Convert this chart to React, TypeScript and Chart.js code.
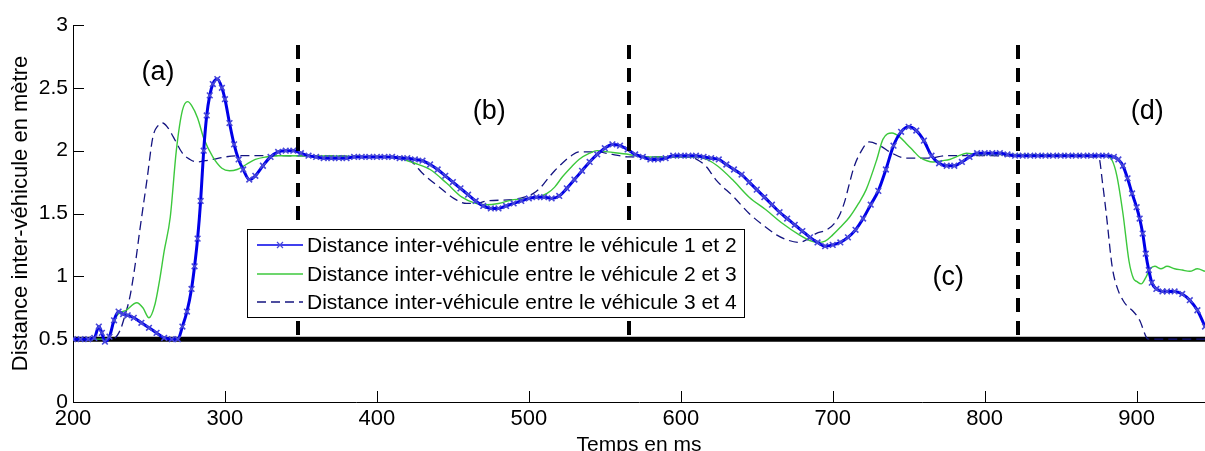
import React, { useEffect, useRef } from 'react';
import { Chart, registerables } from 'chart.js';

Chart.register(...registerables);

// ---- Axis ticks ----
const timeTicks = [200, 300, 400, 500, 600, 700, 800, 900];
const distTicks = [0, 0.5, 1, 1.5, 2, 2.5, 3];

// ---- Series names ----
const seriesNames = [
  'Distance inter-véhicule entre le véhicule 1 et 2',
  'Distance inter-véhicule entre le véhicule 2 et 3',
  'Distance inter-véhicule entre le véhicule 3 et 4',
];

// ---- Series 1 : véhicule 1 et 2 (ms, m) ----
const gap12Time = [
  200, 205, 210, 214, 217, 219, 221, 224, 227, 230, 233, 236, 240, 245, 250, 255, 260, 265, 269, 272,
  275, 278, 280, 282, 284, 286, 288, 290, 292, 295, 298, 300, 303, 306, 309, 312, 316, 320, 325, 330,
  335, 340, 345, 350, 355, 360, 365, 370, 375, 380, 385, 390, 395, 400, 405, 410, 415, 420, 425, 430,
  435, 440, 445, 450, 455, 460, 465, 470, 475, 480, 485, 490, 495, 500, 505, 510, 515, 520, 525, 530,
  535, 540, 545, 550, 555, 560, 565, 570, 575, 580, 585, 590, 595, 600, 605, 610, 615, 620, 625, 630,
  635, 640, 645, 650, 655, 660, 665, 670, 675, 680, 685, 690, 695, 700, 705, 710, 715, 720, 725, 730,
  735, 740, 745, 750, 755, 760, 765, 770, 775, 780, 785, 790, 795, 800, 805, 810, 815, 820, 825, 830,
  835, 840, 845, 850, 855, 860, 865, 870, 875, 880, 885, 888, 891, 894, 897, 900, 902, 904, 906, 908,
  910, 913, 917, 920, 925, 930, 935, 940, 945,
];
const gap12Dist = [
  0.5, 0.5, 0.5, 0.51, 0.6, 0.55, 0.48, 0.52, 0.65, 0.72, 0.7, 0.69, 0.67, 0.63, 0.59, 0.55, 0.51, 0.5, 0.5, 0.6,
  0.72, 0.9, 1.08, 1.3, 1.6, 2.0, 2.28, 2.44, 2.53, 2.57, 2.5, 2.41, 2.22, 2.05, 1.93, 1.85, 1.77, 1.8, 1.88, 1.95,
  1.99, 2.0, 2.0, 1.98, 1.96, 1.95, 1.94, 1.94, 1.94, 1.94, 1.95, 1.95, 1.95, 1.95, 1.95, 1.95, 1.94, 1.94, 1.93, 1.92,
  1.89, 1.85, 1.8, 1.75, 1.7, 1.65, 1.6, 1.56, 1.54, 1.54, 1.56, 1.58, 1.6, 1.62, 1.63, 1.63, 1.62, 1.64, 1.7, 1.77,
  1.84, 1.91, 1.97, 2.02, 2.05, 2.04, 2.01, 1.97, 1.95, 1.93, 1.93, 1.94, 1.96, 1.96, 1.96, 1.96, 1.95, 1.94, 1.93, 1.89,
  1.85, 1.81, 1.75, 1.69, 1.63, 1.57, 1.51, 1.46, 1.41, 1.36, 1.31, 1.27, 1.24, 1.25, 1.27, 1.31, 1.37, 1.46, 1.57, 1.68,
  1.85, 2.04, 2.15, 2.19, 2.16, 2.08, 1.96, 1.9, 1.88, 1.88, 1.91, 1.95, 1.98, 1.98, 1.98, 1.98, 1.97, 1.96, 1.96, 1.96,
  1.96, 1.96, 1.96, 1.96, 1.96, 1.96, 1.96, 1.96, 1.96, 1.96, 1.95, 1.93, 1.88, 1.78, 1.66, 1.55, 1.46, 1.34, 1.18, 1.05,
  0.95, 0.9, 0.88, 0.88, 0.88, 0.86, 0.81, 0.73, 0.6,
];

// ---- Series 2 : véhicule 2 et 3 (ms, m) ----
const gap23Time = [
  200, 222, 226, 229, 235, 242, 246, 250, 254, 257, 260, 264, 268, 272, 275.5, 278, 282, 286, 292, 298,
  303, 308, 314, 320, 327, 335, 400, 415, 420, 425, 435, 446, 456, 465, 472, 480, 490, 502, 512, 517,
  522, 528, 533, 540, 545, 552, 566, 575, 610, 617, 624, 634, 645, 656, 667, 678, 686, 690, 695, 700,
  705, 711, 717, 722, 729, 733, 739, 744, 749, 753, 757, 762, 766, 772, 777, 783, 788, 795, 880, 884,
  887, 891, 895, 898, 900, 903, 906, 909, 912, 916, 920, 925, 930, 935, 940, 945,
];
const gap23Dist = [
  0.5, 0.5, 0.6, 0.69, 0.73, 0.79, 0.75, 0.67, 0.78, 0.97, 1.2, 1.47, 2.0, 2.32, 2.39, 2.36, 2.26, 2.1, 1.95, 1.86,
  1.84, 1.85, 1.89, 1.93, 1.95, 1.96, 1.95, 1.94, 1.92, 1.9, 1.85, 1.74, 1.63, 1.58, 1.57, 1.58, 1.61, 1.62, 1.66, 1.71,
  1.79, 1.87, 1.93, 1.98, 2.0, 1.99, 1.97, 1.95, 1.95, 1.93, 1.88, 1.77, 1.63, 1.53, 1.42, 1.33, 1.28, 1.27, 1.28, 1.33,
  1.39, 1.47, 1.58, 1.69, 1.93, 2.09, 2.14, 2.11, 2.05, 2.0, 1.95, 1.92, 1.91, 1.92, 1.93, 1.96, 1.98, 1.97, 1.96, 1.92,
  1.8, 1.5, 1.12, 0.98, 0.96, 0.94, 0.99, 1.06, 1.08, 1.06, 1.08, 1.06, 1.05, 1.04, 1.06, 1.04,
];

// ---- Series 3 : véhicule 3 et 4 (ms, m) ----
const gap34Time = [
  200, 226, 231, 234, 237.5, 241, 244, 248.7, 252.6, 256, 259, 262, 266, 272, 277, 281.5, 287, 292, 300, 310,
  418, 424, 430, 441, 452, 459, 466, 472, 489, 497, 503, 508, 512, 517, 522, 528, 533, 545, 555, 566,
  606, 612, 617, 623, 635, 645, 656, 663, 670, 678, 684, 689, 696, 701, 705, 708, 711, 714, 718, 724,
  731, 739, 748, 763, 775, 875, 877.6, 880, 884, 887.5, 891, 894, 897, 902, 906.6, 908, 945,
];
const gap34Dist = [
  0.5, 0.5, 0.57, 0.68, 0.84, 1.1, 1.37, 1.77, 2.11, 2.2, 2.22, 2.19, 2.11, 1.98, 1.93, 1.91, 1.92, 1.93, 1.95, 1.96,
  1.95, 1.9, 1.82, 1.71, 1.61, 1.58, 1.58, 1.6, 1.61, 1.63, 1.66, 1.71, 1.77, 1.84, 1.9, 1.96, 1.99, 1.99, 1.97, 1.95,
  1.95, 1.92, 1.87, 1.77, 1.63, 1.5, 1.39, 1.33, 1.29, 1.27, 1.3, 1.34, 1.37, 1.42, 1.5, 1.6, 1.74, 1.87, 1.98, 2.07,
  2.04, 1.98, 1.94, 1.94, 1.96, 1.95, 1.74, 1.5, 1.07, 0.9, 0.81, 0.76, 0.73, 0.65, 0.51, 0.5, 0.5,
];

// ---- Annotations (data units) ----
const safetyDistance = 0.5;
const phaseBoundaries = [348, 566, 822];
const phaseBoundaryTop = 2.84;
const phaseLabels = ['(a)', '(b)', '(c)', '(d)'];
const phaseLabelTime = [256, 474, 776, 907];
const phaseLabelDist = [2.62, 2.31, 0.99, 2.31];

const FONT = 'Arial, "Liberation Sans", sans-serif';

const toPoints = (t: number[], d: number[]) => t.map((x, i) => ({ x, y: d[i] }));

const COLORS = {
  s1: '#0000e8',
  s1Marker: '#4848d8',
  s2: '#3cc83c',
  s3: '#141480',
};

const overlayPlugin = {
  id: 'overlay',
  beforeDatasetsDraw(chart: any) {
    const { ctx, chartArea, scales } = chart;
    const x = scales.x;
    const y = scales.y;
    ctx.save();
    const py = y.getPixelForValue(safetyDistance);
    ctx.strokeStyle = '#000';
    ctx.lineWidth = 5;
    ctx.beginPath();
    ctx.moveTo(x.getPixelForValue(timeTicks[0]), py);
    ctx.lineTo(chartArea.right, py);
    ctx.stroke();
    ctx.lineWidth = 1;
    const tl = 11;
    for (const v of distTicks) {
      const p = Math.round(y.getPixelForValue(v)) + 0.5;
      ctx.beginPath();
      ctx.moveTo(chartArea.left, p);
      ctx.lineTo(chartArea.left + tl, p);
      ctx.stroke();
    }
    for (const v of timeTicks) {
      const p = Math.round(x.getPixelForValue(v)) + 0.5;
      ctx.beginPath();
      ctx.moveTo(p, chartArea.bottom);
      ctx.lineTo(p, chartArea.bottom - tl);
      ctx.stroke();
    }
    ctx.restore();
  },
  afterDatasetsDraw(chart: any) {
    const { ctx, scales } = chart;
    const x = scales.x;
    const y = scales.y;
    ctx.save();
    ctx.strokeStyle = '#000';
    ctx.lineWidth = 4;
    ctx.setLineDash([14, 9]);
    for (const b of phaseBoundaries) {
      const px = Math.round(x.getPixelForValue(b));
      ctx.beginPath();
      ctx.moveTo(px, y.getPixelForValue(phaseBoundaryTop));
      ctx.lineTo(px, y.getPixelForValue(safetyDistance));
      ctx.stroke();
    }
    ctx.setLineDash([]);
    ctx.fillStyle = '#000';
    ctx.font = `27px ${FONT}`;
    ctx.textAlign = 'center';
    ctx.textBaseline = 'middle';
    phaseLabels.forEach((lab, i) => {
      ctx.fillText(lab, x.getPixelForValue(phaseLabelTime[i]), y.getPixelForValue(phaseLabelDist[i]));
    });
    ctx.restore();
  },
  afterDraw(chart: any) {
    const { ctx, chartArea } = chart;
    const left = chartArea.left + 174;
    const top = chartArea.top + 204;
    const w = 497;
    const h = 88;
    ctx.save();
    ctx.fillStyle = '#fff';
    ctx.fillRect(left, top, w, h);
    ctx.strokeStyle = '#000';
    ctx.lineWidth = 1;
    ctx.strokeRect(left + 0.5, top + 0.5, w, h);
    const rows = [16, 45, 73];
    const x0 = left + 10;
    const x1 = left + 56;
    ctx.font = `21px ${FONT}`;
    ctx.textBaseline = 'middle';
    ctx.textAlign = 'left';
    rows.forEach((ry, i) => {
      const yy = top + ry;
      ctx.beginPath();
      if (i === 0) {
        ctx.strokeStyle = COLORS.s1;
        ctx.lineWidth = 1.5;
        ctx.setLineDash([]);
      } else if (i === 1) {
        ctx.strokeStyle = COLORS.s2;
        ctx.lineWidth = 1.5;
        ctx.setLineDash([]);
      } else {
        ctx.strokeStyle = COLORS.s3;
        ctx.lineWidth = 1.3;
        ctx.setLineDash([9, 5]);
      }
      ctx.moveTo(x0, yy);
      ctx.lineTo(x1, yy);
      ctx.stroke();
      ctx.setLineDash([]);
      if (i === 0) {
        const cx = (x0 + x1) / 2;
        ctx.strokeStyle = COLORS.s1Marker;
        ctx.lineWidth = 1.2;
        ctx.beginPath();
        ctx.moveTo(cx - 3, yy - 3);
        ctx.lineTo(cx + 3, yy + 3);
        ctx.moveTo(cx - 3, yy + 3);
        ctx.lineTo(cx + 3, yy - 3);
        ctx.stroke();
      }
      ctx.fillStyle = '#000';
      ctx.fillText(seriesNames[i], x1 + 4, yy + 1);
    });
    ctx.restore();
  },
};

export default function App() {
  const canvasRef = useRef<HTMLCanvasElement | null>(null);

  useEffect(() => {
    document.body.style.margin = '0';
    const canvas = canvasRef.current;
    if (!canvas) return;
    const chart = new Chart(canvas, {
      type: 'line',
      data: {
        datasets: [
          {
            label: seriesNames[0],
            data: toPoints(gap12Time, gap12Dist),
            borderColor: COLORS.s1,
            borderWidth: 3,
            pointStyle: 'crossRot',
            pointRadius: 4,
            pointBorderColor: COLORS.s1Marker,
            pointBorderWidth: 1.6,
            pointBackgroundColor: 'transparent',
            cubicInterpolationMode: 'monotone',
          },
          {
            label: seriesNames[1],
            data: toPoints(gap23Time, gap23Dist),
            borderColor: COLORS.s2,
            borderWidth: 1.4,
            pointRadius: 0,
            cubicInterpolationMode: 'monotone',
          },
          {
            label: seriesNames[2],
            data: toPoints(gap34Time, gap34Dist),
            borderColor: COLORS.s3,
            borderWidth: 1.3,
            borderDash: [9, 5],
            pointRadius: 0,
            cubicInterpolationMode: 'monotone',
          },
        ],
      },
      options: {
        responsive: false,
        animation: false,
        events: [],
        layout: { autoPadding: false, padding: { top: 25, right: 0, left: 0, bottom: 0 } },
        plugins: {
          legend: { display: false },
          tooltip: { enabled: false },
        },
        scales: {
          x: {
            type: 'linear',
            min: 200,
            max: 945,
            afterBuildTicks: (s: any) => {
              s.ticks = timeTicks.map((v) => ({ value: v }));
            },
            afterFit: (s: any) => {
              s.height = 49;
              s.paddingRight = 0;
              s.paddingLeft = 0;
            },
            ticks: {
              color: '#000',
              font: { family: FONT, size: 22 },
              padding: 4,
              maxRotation: 0,
              autoSkip: false,
              callback: (v: any) => String(v),
            },
            grid: { display: true, drawOnChartArea: false, drawTicks: false },
            border: { display: true, color: '#000', width: 1 },
            title: {
              display: true,
              text: 'Temps en ms',
              color: '#000',
              font: { family: FONT, size: 21 },
              padding: { top: 0, bottom: -7 },
            },
          },
          y: {
            type: 'linear',
            min: 0,
            max: 3,
            afterBuildTicks: (s: any) => {
              s.ticks = distTicks.map((v) => ({ value: v }));
            },
            afterFit: (s: any) => {
              s.width = 73;
            },
            ticks: {
              color: '#000',
              font: { family: FONT, size: 21 },
              padding: 5,
              autoSkip: false,
              callback: (v: any) => String(v),
            },
            grid: { display: true, drawOnChartArea: false, drawTicks: false },
            border: { display: true, color: '#000', width: 1 },
            title: {
              display: true,
              text: 'Distance inter-véhicule en mètre',
              color: '#000',
              font: { family: FONT, size: 22 },
              padding: { top: 8, bottom: 0 },
            },
          },
        },
      },
      plugins: [overlayPlugin],
    });
    return () => chart.destroy();
  }, []);

  return (
    <div style={{ width: 1205, height: 451, background: '#fff' }}>
      <canvas ref={canvasRef} width={1205} height={451} style={{ display: 'block' }} />
    </div>
  );
}
